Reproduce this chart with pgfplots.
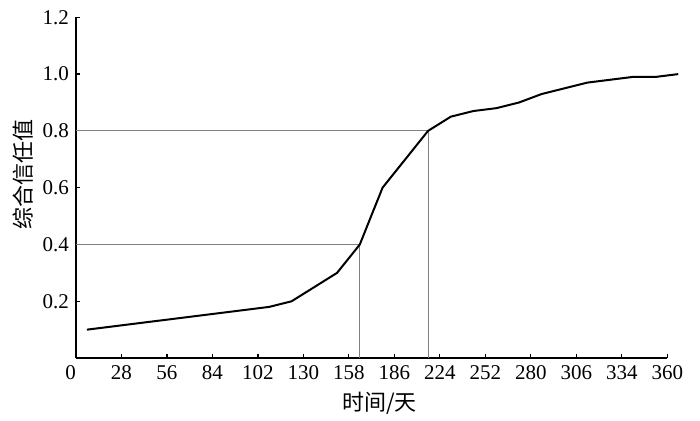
\documentclass[border=0pt]{standalone}
\usepackage{pgfplots}
\pgfplotsset{compat=1.18}
\usepackage{fontspec}
\setmainfont{Liberation Serif}
\newfontfamily\cjk{Noto Sans CJK SC}

\begin{document}
\begin{tikzpicture}
\begin{axis}[
    scale only axis,
    width=295.7pt,
    height=170.4pt,
    xmin=0, xmax=13,
    ymin=0, ymax=1.2,
    clip=false,
    axis x line*=bottom,
    axis y line*=left,
    axis line style={-, line width=0.7pt},
    tick align=inside,
    major tick length=2.2pt,
    tick style={black, line width=0.6pt},
    xtick={0,...,13},
    xticklabels={0\hphantom{0},28,56,84,102,130,158,186,224,252,280,306,334,360},
    ytick={0.2,0.4,0.6,0.8,1.0,1.2},
    yticklabel style={/pgf/number format/fixed, /pgf/number format/precision=1,
        /pgf/number format/fixed zerofill},
    /pgf/number format/assume math mode=true,
    ticklabel style={font=\fontsize{10.5}{12}\selectfont},
    xlabel={\cjk 时间/天},
    ylabel={\cjk 综合信任值},
    label style={font=\fontsize{11}{13}\selectfont},
    xlabel style={yshift=0.5pt, xshift=4pt},
    ylabel style={at={(ticklabel cs:0.54)}, yshift=-2pt},
]
% reference lines for 0.4 and 0.8
\addplot[gray, line width=0.5pt] coordinates {(0,0.4) (6.24,0.4) (6.24,0)};
\addplot[gray, line width=0.5pt] coordinates {(0,0.8) (7.74,0.8) (7.74,0)};

\addplot[black, line width=1pt, line join=round] coordinates {
    (0.24,0.10) (0.74,0.11) (1.24,0.12) (1.74,0.13) (2.24,0.14)
    (2.74,0.15) (3.24,0.16) (3.74,0.17) (4.24,0.18) (4.74,0.20)
    (5.24,0.25) (5.74,0.30) (6.24,0.40) (6.74,0.60) (7.24,0.70)
    (7.74,0.80) (8.24,0.85) (8.74,0.87) (9.24,0.88) (9.74,0.90)
    (10.24,0.93) (10.74,0.95) (11.24,0.97) (11.74,0.98) (12.24,0.99)
    (12.74,0.99) (13.24,1.00)
};

% keep the reference's page proportions
\path (rel axis cs:-0.1285,-0.1732) rectangle (rel axis cs:1.0553,1.0508);
\end{axis}
\end{tikzpicture}
\end{document}
